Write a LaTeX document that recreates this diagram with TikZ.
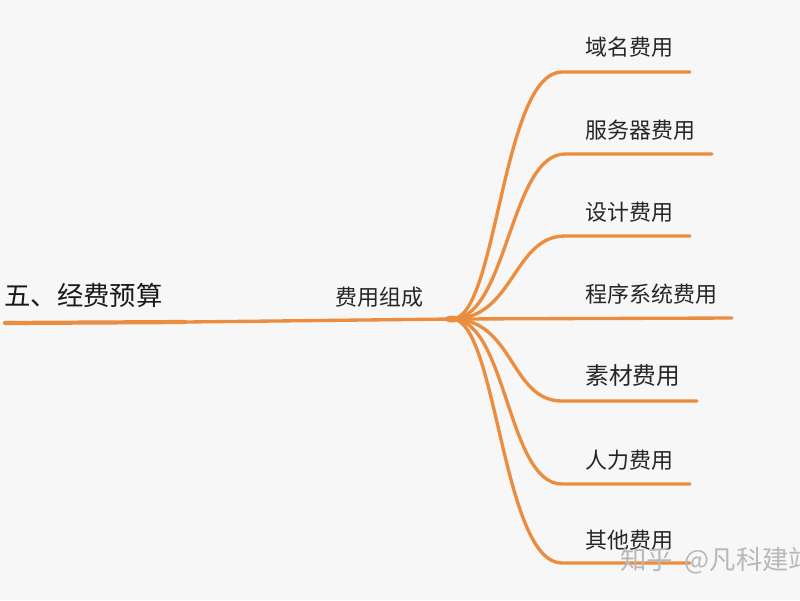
\documentclass[tikz,border=0pt]{standalone}
\usepackage{fontspec}
\setmainfont{Noto Sans CJK SC}
\usepackage{tikz}
\usetikzlibrary{calc,positioning}
\definecolor{mapline}{RGB}{236,140,62}
\definecolor{paper}{RGB}{247,247,247}
\tikzset{
  branch/.style={draw=mapline,line width=1.9pt,line cap=round},
  leaf/.style={anchor=west,inner sep=0pt,font=\fontsize{12.5}{14}\selectfont,text=black!85},
}

\begin{document}
\begin{tikzpicture}[x=0.02cm,y=-0.02cm]
\fill[paper] (0,0) rectangle (800,600);
\useasboundingbox (0,0) rectangle (800,600);

\node[anchor=west,inner sep=0pt,font=\fontsize{15}{17}\selectfont,text=black!90] (root) at (4,295) {五、经费预算};
\node[leaf] (cost) at (335,297) {费用组成};
\coordinate (rootL) at (5,323);
\coordinate (rootM) at (185,322);
\coordinate (hub) at (452,319);
\draw[branch,line width=2.4pt] (rootL) -- (rootM);
\draw[branch] (rootM) -- (hub);
\fill[mapline] (hub) ellipse (7 and 3.5);

\node[leaf] (domain) at (585,47) {域名费用};
\node[leaf] (server) at (585,130) {服务器费用};
\node[leaf] (design) at (585,212) {设计费用};
\node[leaf] (program) at (585,294) {程序系统费用};
\node[leaf,font=\fontsize{13.5}{15}\selectfont] (material) at (585,376) {素材费用};
\node[leaf] (labor) at (585,460) {人力费用};
\node[leaf] (other) at (585,540) {其他费用};

\coordinate (domainL) at (562,72);   \coordinate (domainR) at (690,72);
\coordinate (serverL) at (565,154);  \coordinate (serverR) at (712,154);
\coordinate (designL) at (565,236);  \coordinate (designR) at (690,236);
\coordinate (programR) at (732,318);
\coordinate (materialL) at (562,401); \coordinate (materialR) at (697,401);
\coordinate (laborL) at (562,484);   \coordinate (laborR) at (690,484);
\coordinate (otherL) at (562,563);   \coordinate (otherR) at (690,563);

\draw[branch] (hub) .. controls +(45,0) and +(-60,0) .. (domainL) -- (domainR);
\draw[branch] (hub) .. controls +(55,0) and +(-55,0) .. (serverL) -- (serverR);
\draw[branch] (hub) .. controls +(62,0) and +(-52,0) .. (designL) -- (designR);
\draw[branch] (hub) -- (programR);
\draw[branch] (hub) .. controls +(62,0) and +(-52,0) .. (materialL) -- (materialR);
\draw[branch] (hub) .. controls +(55,0) and +(-55,0) .. (laborL) -- (laborR);
\draw[branch] (hub) .. controls +(45,0) and +(-60,0) .. (otherL) -- (otherR);

\node[anchor=west,inner sep=0pt,font=\fontsize{15}{17}\selectfont,text=black!28] (mark) at (620,561) {知乎\ \ @凡科建站};
\end{tikzpicture}
\end{document}
